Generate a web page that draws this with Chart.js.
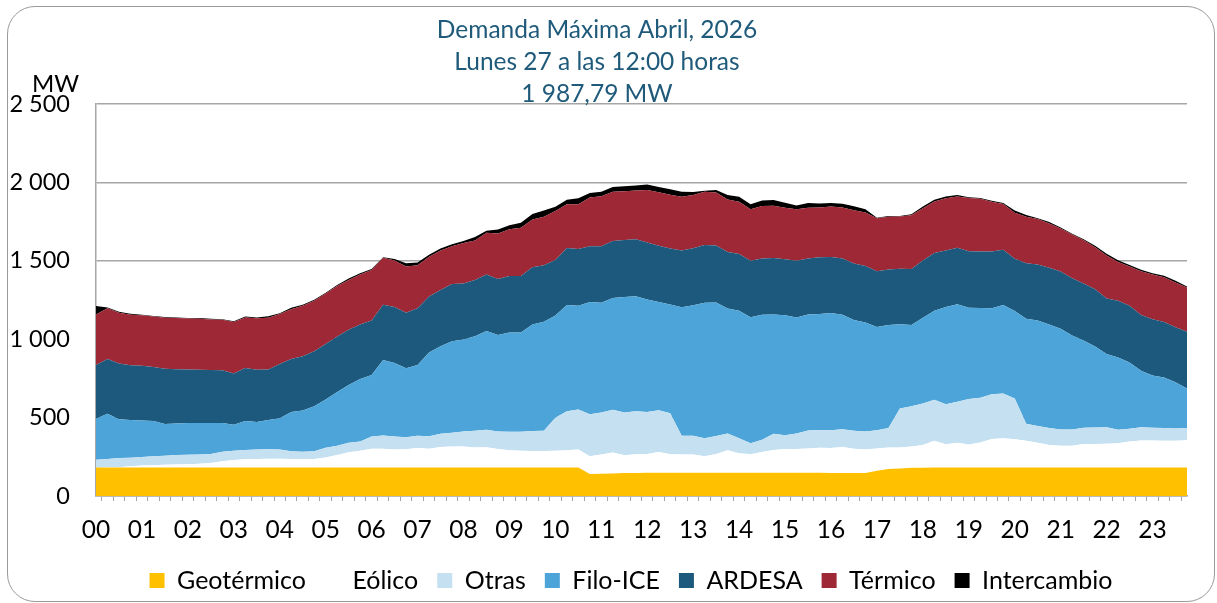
<!DOCTYPE html>
<html lang="es">
<head>
<meta charset="utf-8">
<title>Demanda Máxima Abril, 2026</title>
<script src="https://cdn.jsdelivr.net/npm/chart.js@4.4.1/dist/chart.umd.min.js"></script>
<style>
  html, body { margin: 0; padding: 0; background: #fff; }
  #marco { position: absolute; left: 7px; top: 6px; width: 1206px; height: 594px;
           border: 1.5px solid #9a9a9a; border-radius: 28px; }
  #caja { position: absolute; left: 0; top: 0; width: 1217px; height: 603px; }
</style>
</head>
<body>
<div id="marco"></div>
<div id="caja"><canvas id="grafico"></canvas></div>

<script>
// textos
const titulo = ['Demanda Máxima Abril, 2026', 'Lunes 27 a las 12:00 horas', '1 987,79 MW'];
const series = ['Geotérmico', 'Eólico', 'Otras', 'Filo-ICE', 'ARDESA', 'Térmico', 'Intercambio'];

// categorias cada 15 minutos
const horas = [];
for (let h = 0; h < 24; h++) {
  for (let m = 0; m < 60; m += 15) {
    horas.push(String(h).padStart(2, '0') + ':' + String(m).padStart(2, '0'));
  }
}

// MW por fuente
const geotermico = [182,182,182,181,181,181,182,182,182,182, 182,182,182,182,182,182,182,182,182,182,
  182,182,182,182,182,182,182,182,182,182, 182,182,182,182,182,182,182,182,182,182,
  182,182,182,140,142,144,146,147,148,148, 148,148,148,148,148,148,148,148,148,148,
  148,148,148,148,147,147,147,147,161,172, 176,180,180,182,182,182,182,182,182,182,
  182,182,182,182,182,182,182,182,182,182, 182,182,182,182,182,182];
const eolico = [0,2,2,9,13,15,17,19,21,24, 28,39,47,52,54,56,56,54,52,54,
  64,79,97,107,120,120,114,116,124,120, 131,133,133,127,129,118,109,107,105,105,
  107,109,114,114,122,133,114,120,120,133, 118,116,116,105,120,144,124,118,133,146,
  152,152,155,159,159,165,155,150,142,137, 133,135,146,170,148,157,146,159,182,187,
  180,170,157,144,139,139,150,150,152,155, 165,172,172,170,170,174];
const otras = [49,52,58,54,54,58,58,60,60,58, 58,62,60,60,60,60,58,49,49,49,
  62,60,60,58,77,84,84,77,79,79, 84,88,97,107,112,112,118,120,127,129,
  210,249,255,268,268,273,273,273,268,266, 262,120,120,116,114,107,97,71,77,103,
  88,99,114,114,114,114,114,114,116,124, 249,258,264,262,255,262,290,285,285,285,
  260,109,107,107,103,103,103,105,105,86, 82,84,82,82,79,77];
const filo = [262,288,247,240,234,225,202,202,202,202, 197,182,165,185,176,187,200,251,262,288,
  307,343,369,399,393,481,468,440,451,534, 558,584,586,603,629,614,633,633,680,695,
  652,678,663,715,700,712,736,734,717,691, 693,820,833,863,852,796,813,803,798,760,
  764,740,740,740,747,730,706,695,659,657, 537,517,547,567,620,622,582,573,549,564,
  558,670,674,661,642,599,556,517,466,461, 423,361,333,322,294,253];
const ardesa = [343,350,356,350,348,343,352,346,341,339, 339,337,328,337,333,322,346,337,346,350,
  354,354,352,348,348,352,358,354,361,358, 358,365,358,358,361,358,361,361,365,361,
  354,363,361,356,361,365,363,363,363,358, 358,361,363,369,363,361,361,361,358,361,
  358,361,358,361,358,358,361,361,356,354, 354,358,365,369,361,361,361,361,361,352,
  333,354,356,361,365,365,365,365,354,361, 361,356,358,354,352,361];
const termico = [322,324,324,322,322,322,326,326,326,326, 322,322,328,322,328,330,318,318,322,322,
  322,322,318,318,322,300,296,294,275,253, 253,240,258,253,266,290,298,307,305,309,
  313,280,285,311,318,313,311,311,335,341, 343,343,339,339,339,335,333,328,335,333,
  328,328,324,318,322,326,339,341,337,337, 333,343,333,328,333,326,339,335,318,292,
  294,296,290,283,275,279,275,268,275,247, 251,279,285,285,285,283];
const intercambio = [54,4,6,6,4,4,4,4,4,4, 4,4,4,6,6,9,6,9,6,6,
  6,6,9,9,6,4,9,21,17,13, 13,13,13,21,13,26,26,32,34,39,
  26,28,39,28,30,30,32,32,36,34, 34,32,19,6,15,28,32,32,36,36,
  32,24,30,26,21,24,26,21,4,4, 4,6,11,11,11,9,6,6,6,6,
  13,11,6,9,6,6,6,9,11,11, 9,9,9,9,11,6];

// ticks del eje Y
const ticksY = [0, 500, 1000, 1500, 2000, 2500];

const valores = [geotermico, eolico, otras, filo, ardesa, termico, intercambio];
const colores = ['#FFC000', '#FFFFFF', '#C4E0F1', '#4CA4D8', '#1D597D', '#9E2836', '#000000'];

const fuente = 'Lato, "Noto Sans", sans-serif';

function miles(v) {
  return String(v).replace(/\B(?=(\d{3})+(?!\d))/g, ' ');
}

const textosPlugin = {
  id: 'textos',
  afterLayout(chart) {
    // la leyenda del original esta corrida a la derecha
    if (chart.legend) chart.legend.left += 75;
  },
  afterDraw(chart) {
    const ctx = chart.ctx;
    ctx.save();
    ctx.font = '24.5px ' + fuente;
    ctx.textAlign = 'center';
    ctx.textBaseline = 'middle';
    ctx.fillStyle = '#1F5A7A';
    titulo.forEach((t, i) => ctx.fillText(t, 597, 30.5 + i * 32));
    ctx.fillStyle = '#000';
    ctx.textAlign = 'left';
    ctx.font = '24px ' + fuente;
    ctx.fillText('MW', 32, 84);
    ctx.restore();
  }
};

const datasets = series.map((nombre, k) => ({
  label: nombre,
  data: valores[k],
  backgroundColor: colores[k],
  borderColor: colores[k],
  borderWidth: 0,
  pointRadius: 0,
  tension: 0,
  fill: k === 0 ? 'origin' : '-1'
}));

new Chart(document.getElementById('grafico'), {
  type: 'line',
  data: { labels: horas, datasets: datasets },
  options: {
    responsive: true,
    maintainAspectRatio: false,
    animation: false,
    layout: { padding: { left: 0, right: 30, top: 104, bottom: 0 } },
    plugins: {
      title: { display: false },
      tooltip: { enabled: false },
      legend: {
        position: 'bottom',
        maxHeight: 60,
        labels: {
          boxWidth: 15,
          boxHeight: 15,
          padding: 19,
          color: '#000',
          font: { family: fuente, size: 25 }
        }
      }
    },
    scales: {
      x: {
        offset: false,
        grid: { drawOnChartArea: false, drawTicks: true, tickLength: 5, offset: true, color: '#A6A6A6', lineWidth: 1 },
        border: { color: '#A6A6A6', width: 1.5 },
        ticks: {
          autoSkip: false,
          maxRotation: 0,
          minRotation: 0,
          padding: 14,
          color: '#000',
          font: { family: fuente, size: 24.5 },
          callback: (v, i) => horas[i].endsWith(':00') ? horas[i].slice(0, 2) : ''
        },
        afterFit: s => { s.height = 53; }
      },
      y: {
        stacked: true,
        min: ticksY[0],
        max: ticksY[ticksY.length - 1],
        afterBuildTicks: s => { s.ticks = ticksY.map(v => ({ value: v })); },
        grid: { drawTicks: false, color: '#A6A6A6', lineWidth: 1.5 },
        border: { color: '#A6A6A6', width: 1.5 },
        ticks: {
          padding: 26,
          color: '#000',
          font: { family: fuente, size: 23.5 },
          callback: v => miles(v)
        },
        afterFit: s => { s.width = 96; }
      }
    }
  },
  plugins: [textosPlugin]
});
</script>
</body>
</html>
